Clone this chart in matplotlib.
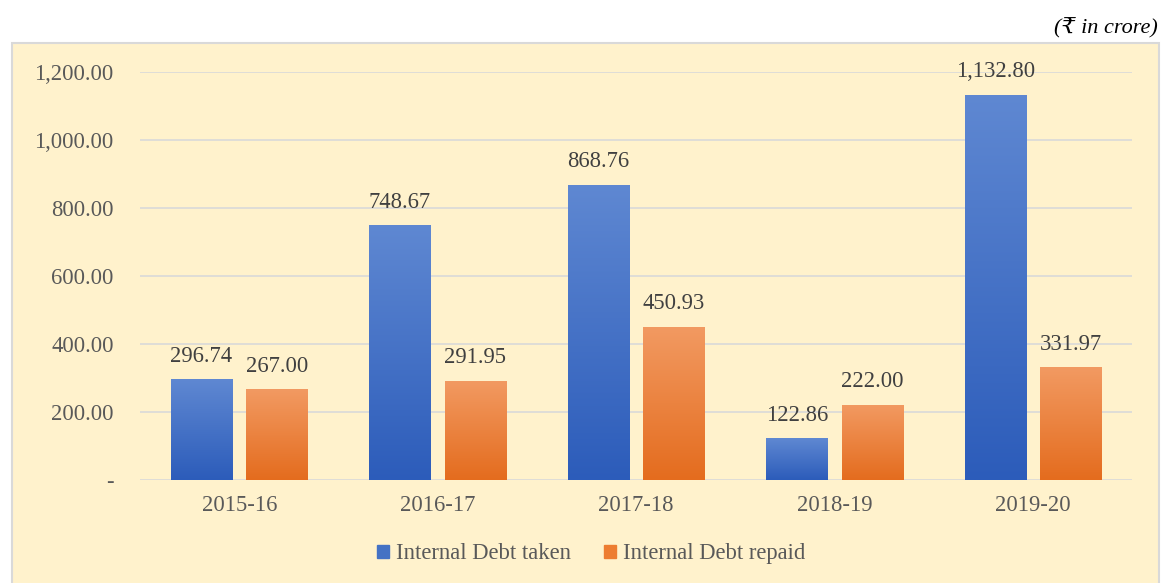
import sys
import numpy as np
import matplotlib
matplotlib.use("Agg")
import matplotlib.pyplot as plt
from matplotlib.patches import Rectangle
from matplotlib.colors import LinearSegmentedColormap

years = ["2015-16", "2016-17", "2017-18", "2018-19", "2019-20"]
debt_taken = [296.74, 748.67, 868.76, 122.86, 1132.80]
debt_repaid = [267.00, 291.95, 450.93, 222.00, 331.97]

FS = 16.3


def fmt_val(v):
    return "-" if v == 0 else f"{v:,.2f}"


def gradient_bars(ax, xs, heights, width, top_color, bottom_color):
    cmap = LinearSegmentedColormap.from_list("g", [bottom_color, top_color])
    grad = np.linspace(0, 1, 256).reshape(-1, 1)
    bars = ax.bar(xs, heights, width=width, color="none", edgecolor="none", zorder=3)
    for b in bars:
        x0, y0 = b.get_x(), b.get_y()
        w, h = b.get_width(), b.get_height()
        im = ax.imshow(grad, cmap=cmap, origin="lower", aspect="auto",
                       extent=[x0, x0 + w, y0, y0 + h], zorder=3)
        im.set_clip_path(b)
    return bars


def main():
    plt.rcParams["font.family"] = ["Liberation Serif", "DejaVu Serif"]
    fig = plt.figure(figsize=(11.62, 5.83), dpi=100)
    fig.patch.set_facecolor("white")

    # beige chart frame (behind the axes)
    fig.patches.append(Rectangle((0.0103, -0.01), 0.9875, 0.936, transform=fig.transFigure,
                                 facecolor="#fff2cc", edgecolor="#d9d9d9", linewidth=1.5,
                                 zorder=-1))

    fig.text(0.996, 0.952, "(₹ in crore)", ha="right", va="center", fontsize=16,
             style="italic", color="#000000")

    ax = fig.add_axes([0.1205, 0.1767, 0.854, 0.6998])
    ax.set_facecolor("none")

    x = np.arange(len(years))
    w = 0.31
    off = 0.19
    b1 = gradient_bars(ax, x - off, debt_taken, w, "#5f88d2", "#2c5cba")
    b2 = gradient_bars(ax, x + off, debt_repaid, w, "#f29a62", "#e46c1e")

    for bars, vals in ((b1, debt_taken), (b2, debt_repaid)):
        for b, v in zip(bars, vals):
            ax.annotate(f"{v:,.2f}", (b.get_x() + b.get_width() / 2, v), xytext=(0, 9),
                        textcoords="offset points", ha="center", va="bottom",
                        fontsize=FS, color="#404040")

    ax.set_xlim(-0.5, len(years) - 0.5)
    ax.set_ylim(0, 1200)
    ax.set_yticks(np.arange(0, 1201, 200))
    ax.set_yticklabels([fmt_val(v) for v in np.arange(0, 1201, 200)])
    ax.set_xticks(x)
    ax.set_xticklabels(years)
    ax.tick_params(axis="y", length=0, pad=19, labelsize=FS, labelcolor="#595959")
    ax.tick_params(axis="x", length=0, pad=11, labelsize=FS, labelcolor="#595959")
    ax.grid(axis="y", color="#d9d9d9", linewidth=1.2, zorder=0)
    ax.set_axisbelow(True)
    for s in ax.spines.values():
        s.set_visible(False)

    handles = [Rectangle((0, 0), 1, 1, color="#4472c4"), Rectangle((0, 0), 1, 1, color="#ed7d31")]
    fig.legend(handles, ["Internal Debt taken", "Internal Debt repaid"], loc="center",
               bbox_to_anchor=(0.5086, 0.05), ncol=2, frameon=False, fontsize=FS,
               labelcolor="#595959", handlelength=0.55, handleheight=0.55,
               handletextpad=0.3, columnspacing=1.45)

    fig.savefig("out.png", dpi=100)
    return 0


if __name__ == "__main__":
    sys.exit(main())
